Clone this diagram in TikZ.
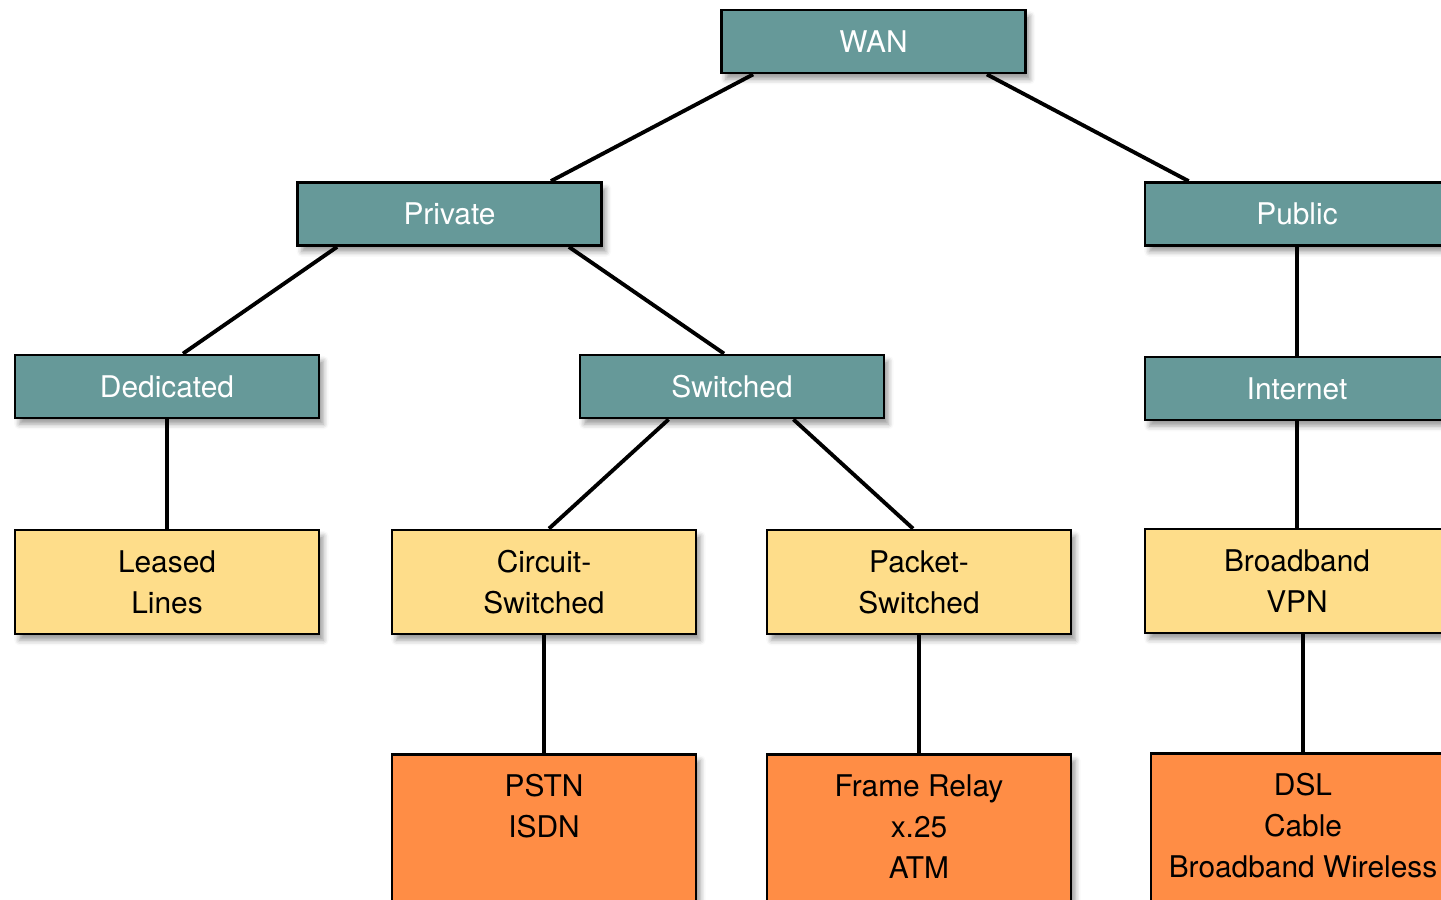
\documentclass[tikz,border=0pt]{standalone}
\usepackage{fontspec}
\setmainfont{TeX Gyre Heros}
\usetikzlibrary{shadows,shadows.blur}
\definecolor{wanteal}{RGB}{102,153,153}
\definecolor{wanyellow}{RGB}{254,221,138}
\definecolor{wanorange}{RGB}{255,141,69}

\begin{document}
\begin{tikzpicture}[node distance=3.45cm]
	\tikzset{
		box/.style={rectangle, minimum width=6.08cm, align=center, draw=black, line width=1.6pt, font=\fontsize{17}{23.3}\selectfont, blur shadow={shadow xshift=2.5pt, shadow yshift=-3.5pt, shadow blur radius=3pt, shadow opacity=40}},
		category/.style={box, minimum height=1.26cm, fill=wanteal, text=white},
		service/.style={box, minimum height=2.08cm, fill=wanyellow},
		tech/.style={box, text height=58.9pt, text depth=4cm, inner ysep=0.41cm, fill=wanorange},
		link/.style={line width=2.2pt},
	}
	\useasboundingbox (0,0) rectangle (28.82,-17.98);
	\node[category](wan) at (17.47,-0.83){WAN};
	\node[category, below of=wan, xshift=-8.48cm](private){Private};
	\node[category, below of=wan, xshift=8.47cm](public){Public};
	\node[category, below of=private, xshift=-5.65cm](dedicated){Dedicated};
	\node[category, below of=private, xshift=5.65cm](switched){Switched};
	\node[category, below of=public, yshift=-0.04cm](internet){Internet};
	\node[service, below of=dedicated, yshift=-0.46cm](leased){Leased\\Lines};
	\node[service, below of=switched, xshift=-3.76cm, yshift=-0.46cm](circuit){Circuit-\\Switched};
	\node[service, below of=switched, xshift=3.74cm, yshift=-0.46cm](packet){Packet-\\Switched};
	\node[service, below of=internet, yshift=-0.4cm](vpn){Broadband\\VPN};
	\node[tech, text height=35.6pt, below of=circuit, anchor=north, yshift=0.03cm](pstn){PSTN\\ISDN};
	\node[tech, below of=packet, anchor=north, yshift=0.03cm](frame){Frame Relay\\x.25\\ATM};
	\node[tech, below of=vpn, anchor=north, xshift=0.12cm, yshift=0.03cm](dsl){DSL\\Cable\\Broadband Wireless};
	%draw links
	\draw[link] ([xshift=0.66cm]wan.south west) -- ([xshift=-1.04cm]private.north east);
	\draw[link] ([xshift=-0.8cm]wan.south east) -- ([xshift=0.9cm]public.north west);
	\draw[link] ([xshift=0.82cm]private.south west) -- ([xshift=0.32cm]dedicated.north);
	\draw[link] ([xshift=-0.68cm]private.south east) -- ([xshift=-0.16cm]switched.north);
	\draw[link] (dedicated) -- (leased);
	\draw[link] ([xshift=1.8cm]switched.south west) -- ([xshift=0.1cm]circuit.north);
	\draw[link] ([xshift=-1.84cm]switched.south east) -- ([xshift=-0.12cm]packet.north);
	\draw[link] (public) -- (internet);
	\draw[link] (internet) -- (vpn);
	\draw[link] (circuit.south) -- (pstn.north);
	\draw[link] (packet.south) -- (frame.north);
	\draw[link] (dsl.north |- vpn.south) -- (dsl.north);
\end{tikzpicture}
\end{document}
